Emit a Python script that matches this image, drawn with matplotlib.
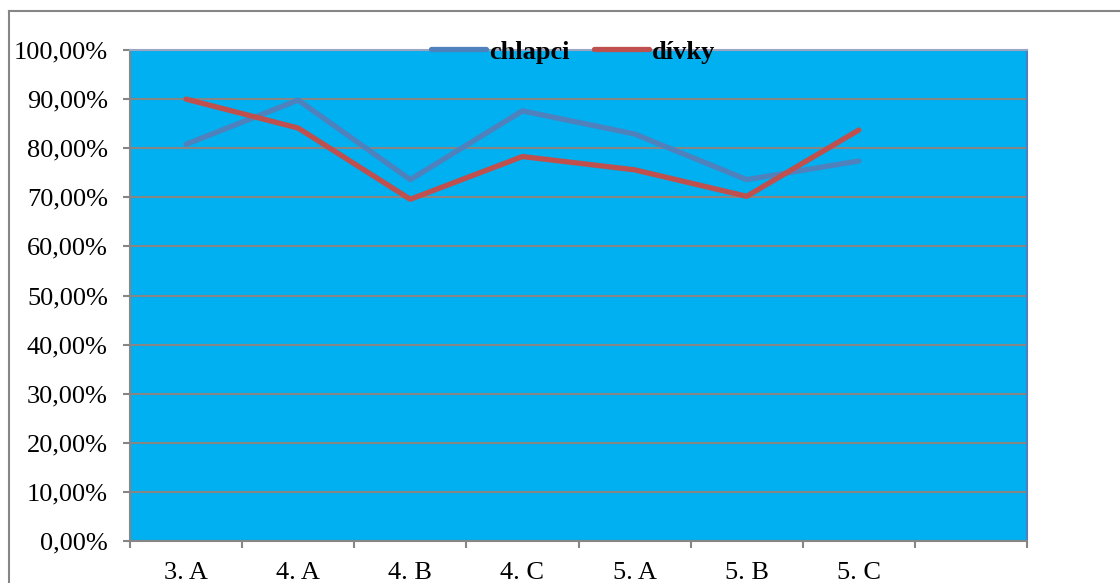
import matplotlib.pyplot as plt
from matplotlib.lines import Line2D
from matplotlib.ticker import FuncFormatter, FixedLocator

classes = ['3. A', '4. A', '4. B', '4. C', '5. A', '5. B', '5. C']
boys = [80.8, 89.8, 73.6, 87.6, 82.9, 73.6, 77.4]
girls = [90.0, 84.1, 69.6, 78.3, 75.6, 70.2, 83.7]

plt.rcParams['font.family'] = ['Liberation Serif', 'DejaVu Serif']

fig = plt.figure(figsize=(11.2, 5.83), dpi=100)
ax = fig.add_axes([130 / 1120, 42 / 583, 897 / 1120, 491 / 583])
ax.set_facecolor('#00b0f0')

x = list(range(len(classes)))
ax.plot(x, boys, color='#4f81bd', lw=3.8, solid_capstyle='round', label='chlapci', zorder=3)
ax.plot(x, girls, color='#c0504d', lw=3.8, solid_capstyle='round', label='dívky', zorder=3)

ax.set_ylim(0, 100)
ax.set_xlim(-0.5, len(classes) + 0.5)
ax.set_yticks(range(0, 101, 10))
ax.yaxis.set_major_formatter(FuncFormatter(lambda v, p: f'{v:.2f}%'.replace('.', ',')))
ax.grid(axis='y', color='#868686', lw=1.5, zorder=1)
ax.set_axisbelow(True)

# category labels in the middle of each slot, tick marks on slot borders
ax.set_xticks(x)
ax.set_xticklabels(classes)
ax.xaxis.set_minor_locator(FixedLocator([i - 0.5 for i in range(len(classes) + 2)]))
ax.tick_params(axis='x', which='major', length=0, pad=15, labelsize=19)
ax.tick_params(axis='x', which='minor', length=5, width=1.5, color='#868686')
ax.tick_params(axis='y', length=5, width=1.5, color='#868686', pad=11, labelsize=19)

for side in ('left', 'bottom'):
    ax.spines[side].set_color('#868686')
    ax.spines[side].set_linewidth(1.5)
ax.spines['top'].set_color('#9aa6c4')
ax.spines['top'].set_linewidth(1.5)
ax.spines['right'].set_color('#4f7fc0')
ax.spines['right'].set_linewidth(1.5)

leg = ax.legend(loc='center', bbox_to_anchor=(0.494, 0.996), ncol=2, frameon=False,
                prop={'weight': 'bold', 'size': 19}, handlelength=2.1,
                handletextpad=0.12, columnspacing=0.9, borderpad=0)

# outer chart frame
fig.add_artist(Line2D([8.5 / 1120, 8.5 / 1120], [0, 1 - 10.5 / 583],
                      transform=fig.transFigure, color='#868686', lw=1.5))
fig.add_artist(Line2D([8.5 / 1120, 1], [1 - 10.5 / 583, 1 - 10.5 / 583],
                      transform=fig.transFigure, color='#868686', lw=1.5))

fig.savefig('out.png', dpi=100)
